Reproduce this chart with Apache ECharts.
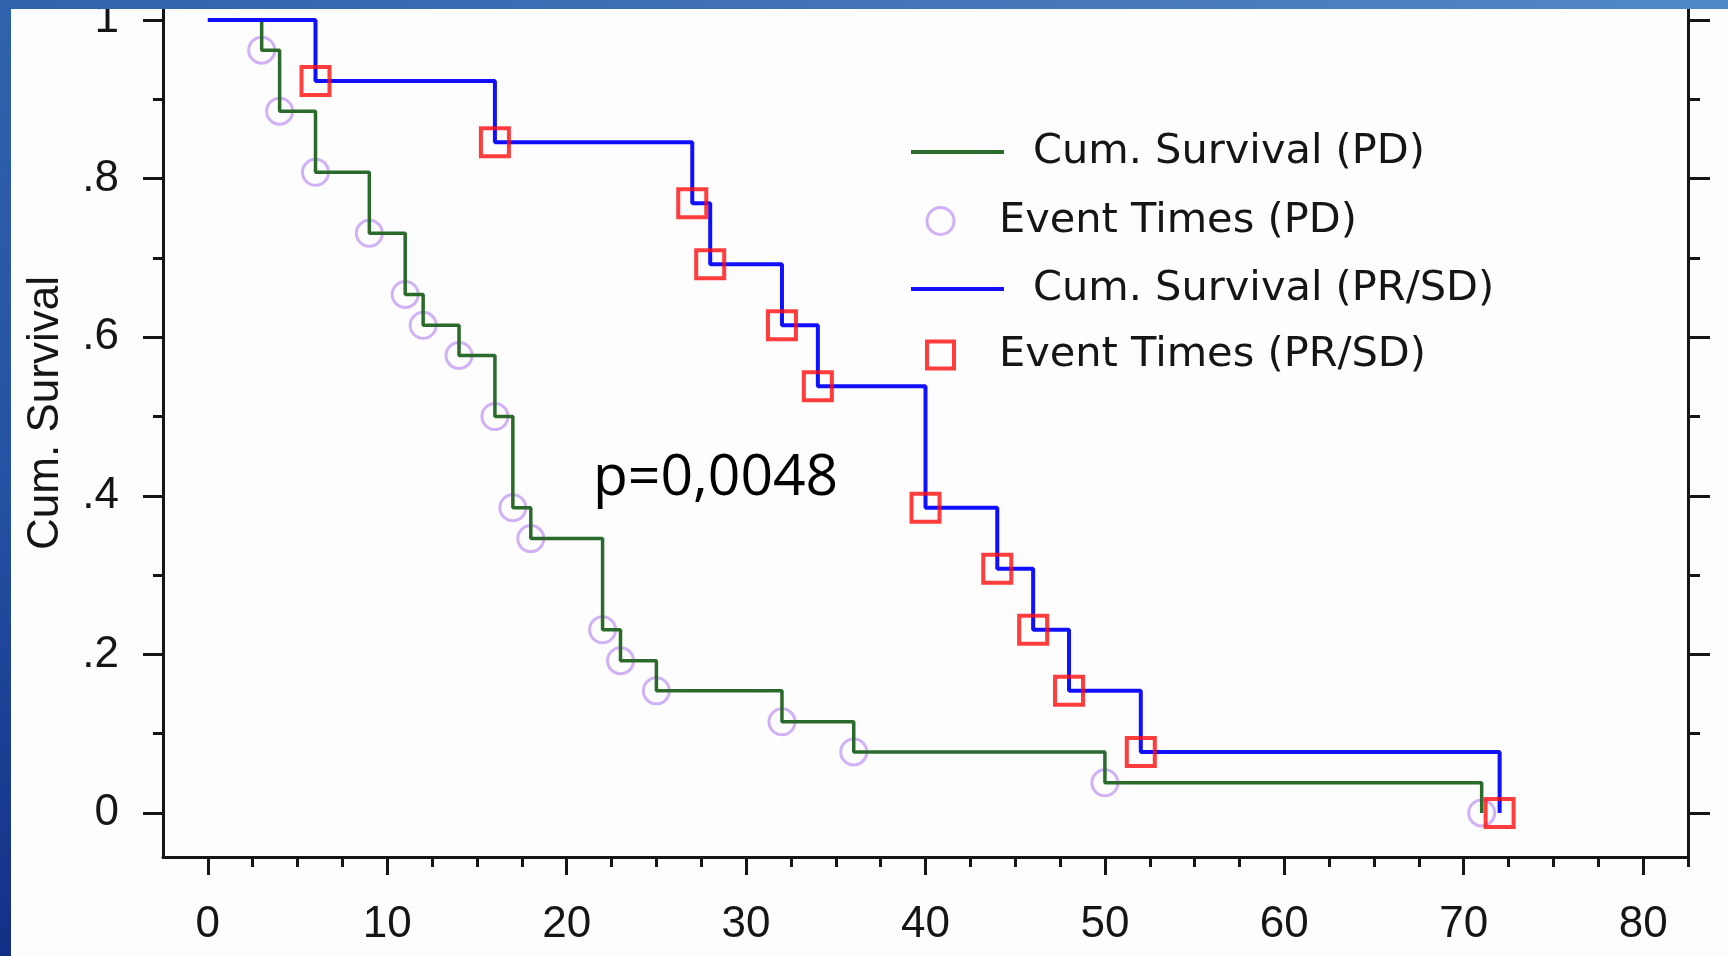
<!DOCTYPE html>
<html>
<head>
<meta charset="utf-8">
<title>Cum. Survival</title>
<script src="https://cdn.jsdelivr.net/npm/echarts@6/dist/echarts.min.js"></script>
<style>
  html, body { margin: 0; padding: 0; background: #fdfdfd; }
  #chart { width: 1728px; height: 956px; }
</style>
</head>
<body>
<div id="chart"></div>
<script>
// Kaplan-Meier data (time, cumulative survival)
var pdTimes = [0, 3, 4, 6, 9, 11, 12, 14, 16, 17, 18, 22, 23, 25, 32, 36, 50, 71];
var pdSurv = [1, 0.962, 0.885, 0.808, 0.731, 0.654, 0.615, 0.577, 0.5, 0.385, 0.346, 0.231, 0.192, 0.154, 0.115, 0.077, 0.038, 0];
var prTimes = [0, 6, 16, 27, 28, 32, 34, 40, 44, 46, 48, 52, 72];
var prSurv = [1, 0.923, 0.846, 0.769, 0.692, 0.615, 0.538, 0.385, 0.308, 0.231, 0.154, 0.077, 0];

// tick labels
var xTicks = [0, 10, 20, 30, 40, 50, 60, 70, 80];
var xMinorTicks = [2.5, 5, 7.5, 12.5, 15, 17.5, 22.5, 25, 27.5, 32.5, 35, 37.5, 42.5, 45, 47.5,
  52.5, 55, 57.5, 62.5, 65, 67.5, 72.5, 75, 77.5, 82.5];
var yTicks = [0, 0.2, 0.4, 0.6, 0.8, 1];
var yMinorTicks = [0.1, 0.3, 0.5, 0.7, 0.9];

var pText = 'p=0,0048';

var xMin = -2.5, xMax = 82.5;
var yMin = -0.0555, yMax = 1.0139;

var greenColor = '#2a6a2a';
var blueColor = '#1010ff';
var circleColor = '#c59ef2';
var squareColor = '#ff0d0d';

function pairs(xs, ys, from) {
  var out = [];
  for (var i = from; i < xs.length; i++) out.push([xs[i], ys[i]]);
  return out;
}

var axisColor = '#151515';
var labelFont = { fontFamily: 'Liberation Sans', fontSize: 44, color: '#151515' };

function xAxisDef(ticks, len, labels) {
  return {
    type: 'value', position: 'bottom', min: xMin, max: xMax,
    axisLine: { show: labels, onZero: false, lineStyle: { color: axisColor, width: 3 } },
    axisTick: { show: true, customValues: ticks, length: len, lineStyle: { color: axisColor, width: 3 } },
    axisLabel: labels ? Object.assign({ customValues: ticks, margin: 46 }, labelFont) : { show: false },
    splitLine: { show: false }
  };
}

function yAxisDef(pos, ticks, len, labels, line) {
  var ax = {
    type: 'value', position: pos, min: yMin, max: yMax,
    axisLine: { show: line, onZero: false, lineStyle: { color: axisColor, width: 3 } },
    axisTick: { show: true, customValues: ticks, length: len, lineStyle: { color: axisColor, width: 3 } },
    axisLabel: { show: false },
    splitLine: { show: false }
  };
  if (labels) {
    ax.axisLabel = Object.assign({
      customValues: ticks, margin: 44,
      formatter: function (v) {
        if (v === 0 || v === 1) return String(v);
        return String(v).replace('0.', '.');
      }
    }, labelFont);
    ax.name = 'Cum. Survival';
    ax.nameLocation = 'middle';
    ax.nameRotate = 90;
    ax.nameGap = 95;
    ax.nameTextStyle = { fontFamily: 'Liberation Sans', fontSize: 44, color: '#151515', padding: [0, 0, 0, 40] };
  }
  return ax;
}

var chart = echarts.init(document.getElementById('chart'));

var option = {
  animation: false,
  backgroundColor: '#fdfdfd',
  grid: { left: 163, right: 40, top: 9, bottom: 99, containLabel: false, outerBoundsMode: 'none' },
  xAxis: [
    xAxisDef(xTicks, 18, true),
    xAxisDef(xMinorTicks, 10, false)
  ],
  yAxis: [
    yAxisDef('left', yTicks, 20, true, true),
    yAxisDef('left', yMinorTicks, 10, false, false),
    yAxisDef('right', yTicks, 22, false, true),
    yAxisDef('right', yMinorTicks, 12, false, false)
  ],
  legend: [
    {
      data: [
        { name: 'Cum. Survival (PD)', icon: 'rect' },
        { name: 'Cum. Survival (PR/SD)', icon: 'rect' }
      ],
      orient: 'vertical', left: 906, top: 126,
      itemWidth: 93, itemHeight: 4, itemGap: 95,
      textStyle: { fontFamily: 'DejaVu Sans', fontSize: 41.5, lineHeight: 40, color: '#151515', padding: [0, 0, 0, 24] }
    },
    {
      data: [
        { name: 'Event Times (PD)', itemStyle: { borderWidth: 3 } },
        { name: 'Event Times (PR/SD)', itemStyle: { borderWidth: 4 } }
      ],
      orient: 'vertical', left: 920, top: 195,
      itemWidth: 27, itemHeight: 27, itemGap: 92,
      textStyle: { fontFamily: 'DejaVu Sans', fontSize: 41.5, lineHeight: 40, color: '#151515', padding: [0, 0, 0, 40] }
    }
  ],
  series: [
    {
      name: 'Event Times (PD)',
      type: 'scatter',
      symbol: 'circle',
      symbolSize: 26,
      itemStyle: { color: 'rgba(0,0,0,0)', borderColor: circleColor, borderWidth: 3 },
      data: pairs(pdTimes, pdSurv, 1),
      z: 1
    },
    {
      name: 'Cum. Survival (PD)',
      type: 'line',
      step: 'end',
      symbol: 'none',
      lineStyle: { color: greenColor, width: 3.5 },
      itemStyle: { color: greenColor },
      data: pairs(pdTimes, pdSurv, 0),
      z: 2
    },
    {
      name: 'Cum. Survival (PR/SD)',
      type: 'line',
      step: 'end',
      symbol: 'none',
      lineStyle: { color: blueColor, width: 4 },
      itemStyle: { color: blueColor },
      data: pairs(prTimes, prSurv, 0),
      z: 3
    },
    {
      name: 'Event Times (PR/SD)',
      type: 'scatter',
      symbol: 'rect',
      symbolSize: 28,
      itemStyle: { color: 'rgba(0,0,0,0)', borderColor: squareColor, borderWidth: 4 },
      data: pairs(prTimes, prSurv, 1),
      z: 4
    }
  ],
  graphic: [
    {
      type: 'text', left: 593, top: 450, z: 50,
      style: { text: pText, font: '57px "Open Sans"', fill: '#000' }
    },
    {
      type: 'rect', left: 0, top: 0, z: 100,
      shape: { width: 1728, height: 9 },
      style: { fill: new echarts.graphic.LinearGradient(0, 0, 1, 0, [
        { offset: 0, color: '#2f62ad' }, { offset: 0.6, color: '#4677b9' }, { offset: 1, color: '#5088c6' }
      ]) }
    },
    {
      type: 'rect', left: 0, top: 0, z: 100,
      shape: { width: 11, height: 956 },
      style: { fill: new echarts.graphic.LinearGradient(0, 0, 0, 1, [
        { offset: 0, color: '#2f62ad' }, { offset: 0.5, color: '#2552a2' }, { offset: 1, color: '#132f85' }
      ]) }
    }
  ]
};

chart.setOption(option);
</script>
</body>
</html>
